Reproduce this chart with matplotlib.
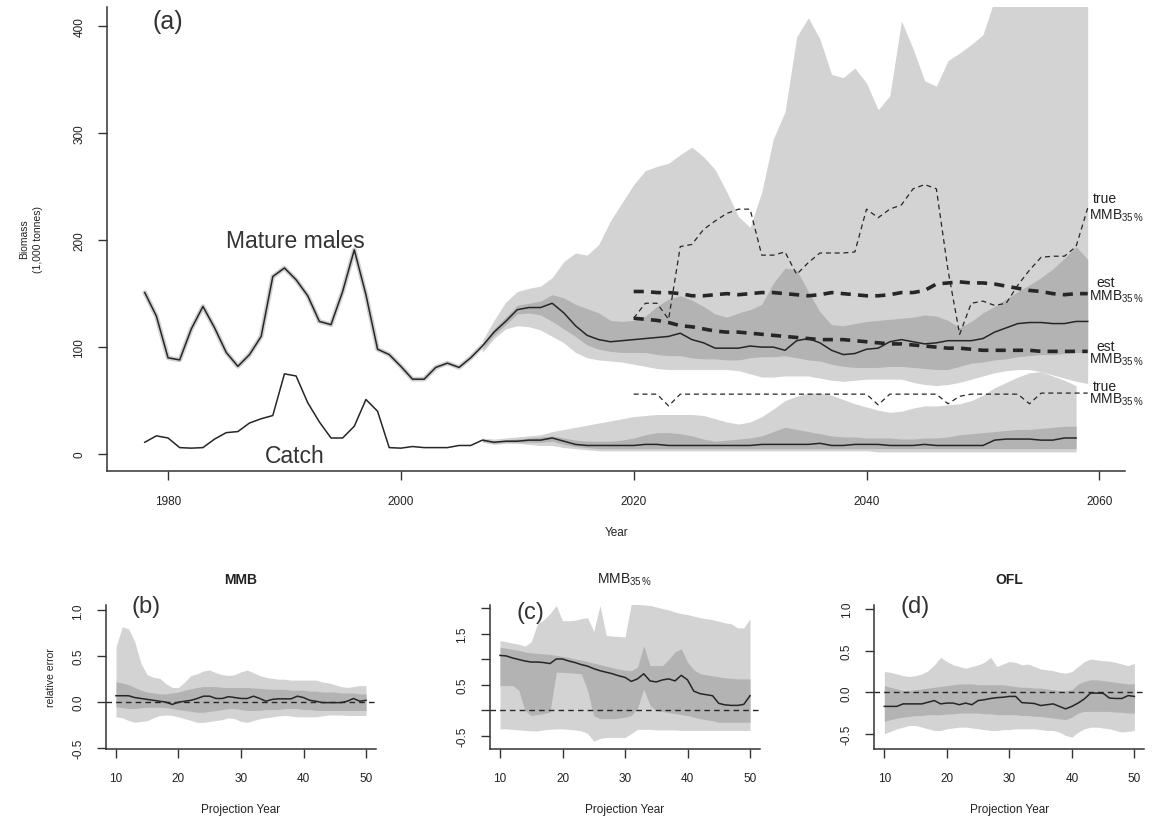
import numpy as np
import matplotlib
matplotlib.use("Agg")
import matplotlib.pyplot as plt

plt.rcParams['font.family'] = ['Liberation Sans', 'DejaVu Sans']
plt.rcParams['mathtext.default'] = 'regular'

# ---------------- panel (a) data ----------------
mmb_years = np.arange(1978, 2060)
mmb_med = [151, 129, 90, 88, 117, 138, 118, 95, 82, 93,
           110, 166, 174, 163, 148, 124, 121, 152, 191, 149,
           98, 93, 82, 70, 70, 81, 85, 81, 90, 101,
           114, 124, 135, 137, 137, 141, 132, 120, 111, 107,
           105, 106, 107, 108, 109, 110, 113, 107, 104, 99,
           99, 99, 101, 100, 100, 97, 106, 108, 104, 97,
           93, 94, 98, 99, 105, 107, 105, 103, 104, 106,
           106, 106, 108, 114, 118, 122, 123, 123, 122, 122,
           124, 124]

band_years = np.arange(2007, 2060)
mmb_hi90 = [106, 125, 142, 152, 155, 157, 165, 180, 188, 186,
            196, 218, 235, 252, 265, 269, 272, 280, 287, 278,
            266, 245, 222, 212, 245, 295, 320, 390, 408, 388,
            355, 352, 361, 347, 322, 335, 405, 379, 349, 344,
            368, 375, 383, 392, 425, 430, 435, 440, 445, 450,
            455, 460, 465]
mmb_lo90 = [95, 108, 117, 120, 119, 116, 110, 104, 95, 90,
            88, 87, 86, 84, 82, 80, 79, 79, 79, 79,
            79, 79, 78, 75, 72, 72, 73, 73, 73, 71,
            69, 68, 69, 70, 70, 70, 70, 67, 65, 64,
            65, 67, 70, 73, 76, 78, 79, 79, 77, 74,
            71, 68, 66]
mmb_hi50 = [103, 117, 128, 139, 141, 143, 149, 146, 140, 136,
            132, 125, 124, 125, 129, 138, 145, 148, 144, 138,
            131, 128, 132, 135, 140, 160, 174, 172, 152, 133,
            121, 120, 122, 124, 125, 126, 127, 128, 130, 129,
            125, 118, 124, 132, 138, 145, 152, 158, 165, 173,
            183, 194, 182]
mmb_lo50 = [98, 111, 121, 131, 132, 130, 124, 117, 110, 102,
            98, 96, 95, 95, 95, 93, 92, 92, 90, 89,
            89, 88, 88, 90, 91, 91, 92, 90, 88, 87,
            84, 82, 81, 81, 81, 82, 82, 81, 80, 79,
            79, 82, 85, 86, 88, 89, 91, 92, 93, 93,
            94, 95, 95]

catch_years = np.arange(1978, 2059)
catch_med = [11, 17, 15, 6, 5.5, 6, 14, 20, 21, 29,
             33, 36, 75, 73, 48, 30, 15, 15, 26, 51,
             40, 6, 5.5, 7, 6, 6, 6, 8, 8, 13,
             11, 12, 12, 13, 13, 15, 12, 9, 8, 8,
             8, 8, 8, 9, 9, 8, 8, 8, 8, 8,
             8, 8, 8, 9, 9, 9, 9, 9, 10, 8,
             8, 9, 9, 9, 8, 8, 8, 9, 8, 8,
             8, 8, 8, 13, 14, 14, 14, 13, 13, 15,
             15]
cband_years = np.arange(2007, 2059)
catch_hi90 = [15, 14, 15, 16, 17, 18, 21, 23, 25, 27,
              29, 31, 33, 35, 36, 37, 37, 37, 37, 36,
              33, 30, 28, 30, 35, 42, 50, 54, 57, 57,
              55, 51, 47, 44, 41, 39, 40, 43, 45, 45,
              46, 47, 50, 55, 62, 67, 72, 76, 77, 73,
              69, 64]
catch_lo90 = [11, 9, 10, 10, 9, 8, 8, 6, 5, 4] + [3] * 24 + [2] * 18
catch_hi50 = [14, 12, 13, 14, 15, 16, 17, 15, 13, 12,
              12, 12, 13, 15, 18, 20, 20, 19, 17, 14,
              12, 13, 14, 15, 17, 21, 25, 23, 21, 19,
              17, 16, 16, 15, 15, 15, 14, 14, 15, 15,
              16, 18, 19, 20, 21, 22, 23, 23, 24, 25,
              26, 26]
catch_lo50 = [12, 10, 11, 11, 11, 11, 12, 9, 7, 6] + [5] * 42

ref_years = np.arange(2020, 2060)
est_hi = [152, 152, 151, 151, 150, 148, 148, 149, 150, 149,
          150, 151, 151, 150, 149, 148, 149, 151, 150, 149,
          148, 148, 149, 151, 151, 153, 159, 160, 161, 160,
          160, 159, 157, 155, 153, 152, 150, 149, 150, 150]
est_lo = [127, 126, 125, 123, 120, 119, 117, 115, 114, 114,
          113, 112, 111, 110, 109, 108, 107, 107, 107, 106,
          105, 104, 103, 103, 102, 101, 100, 99, 99, 98,
          97, 97, 97, 97, 97, 96, 96, 96, 96, 96]
true_hi = [127, 141, 141, 126, 194, 196, 210, 218, 225, 229,
           229, 186, 186, 189, 168, 179, 188, 188, 188, 189,
           229, 221, 229, 233, 248, 252, 248, 172, 112, 141,
           143, 139, 141, 158, 172, 184, 185, 185, 194, 230]
true_lo = [56, 56, 56, 45, 56, 56, 56, 56, 56, 56,
           56, 56, 56, 56, 56, 56, 56, 56, 56, 56,
           56, 46, 56, 56, 56, 56, 56, 47, 54, 56,
           56, 56, 56, 56, 47, 57, 57, 57, 57, 57]

# label positions (year, value) for the reference-point tags
tag_words = ['true', 'est', 'est', 'true']
tag_word_y = [239, 161, 101, 64]
tag_mmb_y = [224, 148, 89, 51.5]

# ---------------- panels (b)-(d) data ----------------
proj = np.arange(10, 51)
b_med = [.07, .07, .07, .05, .04, .03, .02, .01, 0.0, -.025,
         0.0, .01, .02, .04, .065, .065, .04, .04, .06, .05,
         .04, .04, .065, .04, .01, .03, .036, .036, .036, .065,
         .05, .02, .01, -.005, -.005, -.005, -.005, .01, .04, .01, .02]
b_hi90 = [.60, .82, .80, .66, .42, .30, .27, .26, .20, .16,
          .16, .22, .29, .31, .34, .35, .32, .30, .29, .30,
          .33, .35, .32, .29, .27, .26, .25, .25, .24, .24,
          .24, .24, .24, .22, .21, .19, .17, .16, .17, .18, .18]
b_lo90 = [-.16, -.17, -.20, -.22, -.21, -.20, -.17, -.145, -.14, -.145,
          -.16, -.18, -.20, -.22, -.22, -.21, -.20, -.19, -.17, -.18,
          -.21, -.22, -.20, -.18, -.17, -.16, -.15, -.145, -.15, -.16,
          -.16, -.16, -.16, -.15, -.14, -.14, -.14, -.145, -.145, -.145, -.145]
b_hi50 = [.22, .21, .19, .16, .13, .11, .10, .09, .09, .10,
          .11, .13, .145, .16, .17, .17, .17, .16, .16, .16,
          .16, .16, .155, .15, .145, .14, .14, .14, .13, .13,
          .13, .12, .12, .11, .11, .11, .10, .10, .10, .09, .09]
b_lo50 = [-.05, -.06, -.07, -.07, -.06, -.055, -.055, -.055, -.06, -.07,
          -.08, -.09, -.10, -.11, -.11, -.10, -.09, -.08, -.07, -.07,
          -.08, -.09, -.09, -.09, -.08, -.08, -.08, -.07, -.07, -.07,
          -.08, -.08, -.09, -.09, -.09, -.09, -.09, -.09, -.09, -.09, -.09]

c_med = [1.08, 1.07, 1.03, 1.0, 0.97, 0.95, 0.95, 0.94, 0.92, 1.01,
         1.01, 0.97, 0.94, 0.90, 0.87, 0.82, 0.78, 0.75, 0.72, 0.68,
         0.65, 0.57, 0.62, 0.72, 0.58, 0.56, 0.60, 0.62, 0.58, 0.69,
         0.60, 0.38, 0.33, 0.31, 0.29, 0.14, 0.11, 0.10, 0.10, 0.12, 0.29]
c_hi90 = [1.37, 1.35, 1.32, 1.30, 1.26, 1.35, 1.70, 1.78, 1.90, 2.06,
          1.76, 1.76, 1.77, 1.80, 1.82, 1.55, 2.06, 1.47, 1.46, 1.45,
          1.44, 2.09, 2.08, 2.07, 2.06, 2.03, 2.00, 1.97, 1.93, 1.90,
          1.88, 1.85, 1.82, 1.80, 1.78, 1.75, 1.72, 1.70, 1.62, 1.62, 1.80]
c_lo90 = [-0.36, -0.36, -0.37, -0.38, -0.39, -0.40, -0.40, -0.38, -0.37, -0.36,
          -0.36, -0.37, -0.38, -0.40, -0.45, -0.60, -0.55, -0.53, -0.53, -0.53,
          -0.53, -0.45, -0.37, -0.37, -0.37, -0.38, -0.38, -0.38, -0.38, -0.39,
          -0.39, -0.39, -0.39, -0.39, -0.39, -0.39, -0.39, -0.39, -0.39, -0.39, -0.39]
c_hi50 = [1.24, 1.22, 1.20, 1.18, 1.15, 1.13, 1.12, 1.11, 1.10, 1.08,
          1.06, 1.04, 1.01, 0.99, 0.96, 0.93, 0.90, 0.87, 0.84, 0.81,
          0.79, 0.78, 0.85, 1.27, 0.88, 0.88, 0.88, 1.00, 1.15, 1.21,
          0.95, 0.80, 0.72, 0.70, 0.68, 0.66, 0.64, 0.63, 0.62, 0.62, 0.62]
c_lo50 = [0.49, 0.49, 0.49, 0.40, 0.0, -0.10, -0.08, -0.06, -0.03, 0.75,
          0.75, 0.74, 0.73, 0.72, 0.40, -0.10, -0.16, -0.16, -0.16, -0.15,
          -0.13, -0.10, 0.05, 0.42, 0.10, 0.0, -0.02, -0.04, -0.06, -0.08,
          -0.10, -0.13, -0.16, -0.18, -0.20, -0.23, -0.23, -0.23, -0.23, -0.23, -0.23]

d_med = [-.17, -.17, -.17, -.14, -.14, -.14, -.14, -.12, -.10, -.14,
         -.13, -.13, -.15, -.13, -.15, -.10, -.09, -.075, -.065, -.06,
         -.05, -.05, -.125, -.13, -.135, -.16, -.15, -.14, -.17, -.20,
         -.17, -.13, -.08, -.01, -.01, -.012, -.07, -.075, -.075, -.04, -.05]
d_hi90 = [.25, .24, .22, .20, .19, .20, .22, .26, .33, .42,
          .37, .33, .31, .29, .31, .33, .36, .42, .31, .34,
          .37, .36, .33, .34, .31, .28, .27, .26, .24, .23,
          .25, .31, .37, .40, .39, .38, .375, .36, .34, .32, .35]
d_lo90 = [-.50, -.47, -.44, -.42, -.40, -.40, -.42, -.44, -.46, -.46,
          -.44, -.43, -.42, -.42, -.43, -.44, -.45, -.46, -.46, -.45,
          -.45, -.44, -.44, -.44, -.44, -.45, -.46, -.46, -.48, -.52,
          -.54, -.48, -.44, -.42, -.42, -.43, -.44, -.46, -.48, -.47, -.46]
d_hi50 = [.08, .06, .04, .02, .02, .03, .04, .05, .06, .07,
          .08, .09, .10, .10, .10, .09, .09, .09, .09, .09,
          .08, .07, .06, .06, .05, .05, .04, .03, .02, .02,
          .03, .10, .13, .15, .15, .14, .13, .12, .11, .10, .10]
d_lo50 = [-.35, -.33, -.31, -.30, -.29, -.28, -.28, -.27, -.27, -.27,
          -.26, -.26, -.25, -.25, -.25, -.25, -.26, -.26, -.27, -.27,
          -.27, -.27, -.28, -.28, -.29, -.29, -.30, -.31, -.32, -.33,
          -.30, -.25, -.23, -.23, -.23, -.23, -.23, -.24, -.24, -.25, -.25]

LIGHT = '#d3d3d3'
DARK = '#b3b3b3'
INK = '#262626'
AXC = '#333333'


def style_axes(ax, tick_size):
    for s in ('top', 'right'):
        ax.spines[s].set_visible(False)
    for s in ('left', 'bottom'):
        ax.spines[s].set_color(AXC)
        ax.spines[s].set_linewidth(1.1)
    ax.tick_params(direction='out', length=6.5, width=1.0, color=AXC,
                   labelsize=tick_size, labelcolor='#222222', pad=9)
    plt.setp(ax.get_yticklabels(), rotation=90, va='center', ha='right')


fig = plt.figure(figsize=(11.57, 8.28), dpi=100)

# ---------------- panel (a) ----------------
ax = fig.add_axes([0.0925, 0.4303, 0.8802, 0.5606])
ax.fill_between(band_years, mmb_lo90, mmb_hi90, color=LIGHT, lw=0)
ax.fill_between(band_years, mmb_lo50, mmb_hi50, color=DARK, lw=0)
ax.fill_between(cband_years, catch_lo90, catch_hi90, color=LIGHT, lw=0)
ax.fill_between(cband_years, catch_lo50, catch_hi50, color=DARK, lw=0)

# faint uncertainty halo on the assessed years
ax.plot(mmb_years[:30], mmb_med[:30], color='#d0d0d0', lw=3.4,
        solid_capstyle='round')
ax.plot(mmb_years, mmb_med, color=INK, lw=1.1)
ax.plot(catch_years, catch_med, color=INK, lw=1.1)

heavy = (0, (2.8, 2.0))
thin = (0, (4.0, 3.0))
ax.plot(ref_years, est_hi, color=INK, lw=2.6, ls=heavy)
ax.plot(ref_years, est_lo, color=INK, lw=2.6, ls=heavy)
ax.plot(ref_years, true_hi, color=INK, lw=0.9, ls=thin)
ax.plot(ref_years, true_lo, color=INK, lw=0.9, ls=thin)

for w, wy, my in zip(tag_words, tag_word_y, tag_mmb_y):
    ax.text(2060.5, wy, w, fontsize=10, ha='center', va='center',
            color='#222222', clip_on=False)
    ax.text(2059.1, my, r'MMB$_{35\,\%}$', fontsize=10, ha='left',
            va='center', color='#222222', clip_on=False)

ax.text(1990.95, 200, 'Mature males', fontsize=16.5, ha='center',
        va='center', color='#333333')
ax.text(1990.9, -1, 'Catch', fontsize=16.5, ha='center', va='center',
        color='#333333')
ax.text(0.06, 0.969, '(a)', transform=ax.transAxes, fontsize=18,
        ha='center', va='center', color='#333333')

ax.set_xlim(1974.76, 2062.24)
ax.set_ylim(-15.6, 418.5)
ax.set_xticks([1980, 2000, 2020, 2040, 2060])
ax.set_yticks([0, 100, 200, 300, 400])
style_axes(ax, 8.5)
ax.tick_params(axis='x', pad=11)
ax.set_xlabel('Year', fontsize=8.5, labelpad=14, color='#222222')
ax.text(-0.075, 0.5, 'Biomass\n(1,000 tonnes)', transform=ax.transAxes,
        rotation=90, fontsize=7.5, ha='center', va='center',
        linespacing=1.5, color='#222222')

# ---------------- panels (b)-(d) ----------------
panels = [
    (0.0916, 'MMB', 'bold', '(b)', 0.99, b_med, b_lo90, b_hi90, b_lo50, b_hi50,
     (-0.51, 1.063), [-0.5, 0.0, 0.5, 1.0], ['-0.5', '0.0', '0.5', '1.0']),
    (0.4235, r'MMB$_{35\,\%}$', 'normal', '(c)', 0.948, c_med, c_lo90, c_hi90,
     c_lo50, c_hi50, (-0.755, 2.078), [-0.5, 0.0, 0.5, 1.0, 1.5, 2.0],
     ['-0.5', '', '0.5', '', '1.5', '']),
    (0.7557, 'OFL', 'bold', '(d)', 0.99, d_med, d_lo90, d_hi90, d_lo50, d_hi50,
     (-0.683, 1.056), [-0.5, 0.0, 0.5, 1.0], ['-0.5', '0.0', '0.5', '1.0']),
]

for i, (left, title, weight, tag, tag_y, med, lo90, hi90, lo50, hi50,
        ylim, yt, ytl) in enumerate(panels):
    bx = fig.add_axes([left, 0.0942, 0.2334, 0.1745])
    bx.fill_between(proj, lo90, hi90, color=LIGHT, lw=0)
    bx.fill_between(proj, lo50, hi50, color=DARK, lw=0)
    bx.axhline(0, color=INK, lw=1.0, ls=(0, (4, 3)))
    bx.plot(proj, med, color=INK, lw=1.1)
    bx.set_xlim(8.4, 51.6)
    bx.set_ylim(*ylim)
    bx.set_xticks([10, 20, 30, 40, 50])
    bx.set_yticks(yt)
    bx.set_yticklabels(ytl)
    style_axes(bx, 8.5)
    bx.tick_params(axis='x', pad=10)
    bx.text(0.5, 1.176, title, transform=bx.transAxes, fontsize=10,
            fontweight=weight, ha='center', va='center', color='#222222')
    bx.text(0.15, tag_y, tag, transform=bx.transAxes, fontsize=17,
            ha='center', va='center', color='#333333')
    bx.set_xlabel('Projection Year', fontsize=8.5, labelpad=14,
                  color='#222222')
    if i == 0:
        bx.set_ylabel('relative error', fontsize=7.5, labelpad=12,
                      color='#222222')

fig.savefig('out.png', dpi=100)
